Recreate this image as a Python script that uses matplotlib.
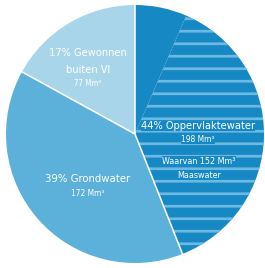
import numpy as np
import matplotlib
matplotlib.use("Agg")
import matplotlib.pyplot as plt

# shares of the pie as drawn (percent of total)
labels = ["Oppervlaktewater", "Grondwater", "Gewonnen buiten Vl"]
percent = [44, 39, 17]
volume = [198, 172, 77]          # Mm³
maas_volume = 152                # Mm³ of Oppervlaktewater from the Maas
maas_share_drawn = 37.5          # part of the 44% drawn hatched

dark = "#1688c4"
hatch_col = "#6cb9e1"
mid = "#5bb1d9"
light = "#a9d5ea"

W, H, DPI = 265, 268, 75
plt.rcParams['hatch.linewidth'] = 2.6
fig = plt.figure(figsize=(W / DPI, H / DPI), dpi=DPI)
cx, cy, r = 135, 134, 129
ax = fig.add_axes([(cx - r) / W, (H - cy - r) / H, 2 * r / W, 2 * r / H])

sizes = [percent[0] - maas_share_drawn, maas_share_drawn, percent[1], percent[2]]
wedges, _ = ax.pie(sizes, radius=1, startangle=90, counterclock=False,
                   colors=[dark, dark, mid, light],
                   wedgeprops=dict(linewidth=0))
wedges[1].set_hatch('-')
wedges[1].set_edgecolor(hatch_col)
wedges[1].set_linewidth(0)
ax.set_aspect('auto')
ax.set_xlim(-1, 1)
ax.set_ylim(-1, 1)
ax.axis('off')

# white separators between the three main parts
cum = np.cumsum([0] + percent)
for c in cum[:-1]:
    ang = np.deg2rad(90 - c / 100 * 360)
    ax.plot([0, np.cos(ang)], [0, np.sin(ang)], color="white", lw=1.5,
            solid_capstyle='butt')

def pos(px, py):
    return (px - cx) / r, (cy - py) / r

fam = ['DejaVu Sans']

def label(px, py, s, size, bg=None):
    x, y = pos(px, py)
    kw = {}
    if bg:
        kw['bbox'] = dict(facecolor=bg, edgecolor='none', pad=0.3)
    ax.text(x, y, s, ha='center', va='center', color='white', fontsize=size,
            family=fam, stretch='condensed', **kw)

label(88, 53, f"{percent[2]}% Gewonnen", 10.5)
label(88, 70, "buiten Vl", 10.5)
label(88, 84, f"{volume[2]} Mm³", 7.5)

label(198, 126, f"{percent[0]}% Oppervlaktewater", 10.5, bg=dark)
label(198, 139, f"{volume[0]} Mm³", 8, bg=dark)
label(199, 161, f"Waarvan {maas_volume} Mm³", 8.5, bg=dark)
label(199, 175, "Maaswater", 8.5, bg=dark)

label(88, 179, f"{percent[1]}% Grondwater", 10.8)
label(88, 194, f"{volume[1]} Mm³", 8)

fig.savefig("out.png", dpi=DPI, facecolor="white")
